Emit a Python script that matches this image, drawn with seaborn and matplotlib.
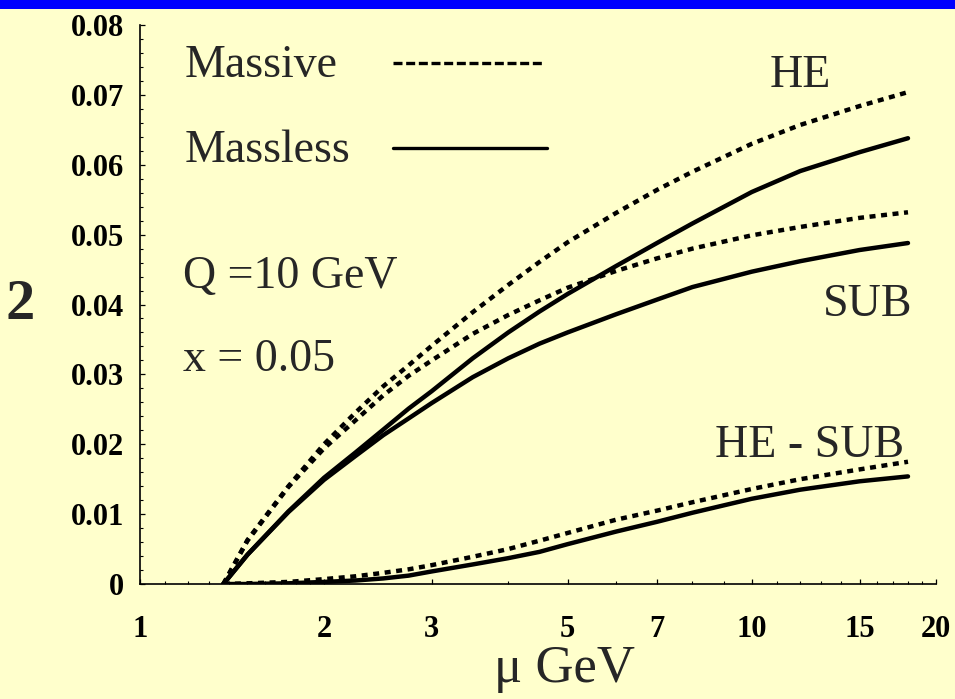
import numpy as np
import pandas as pd
import matplotlib
matplotlib.use("Agg")
import matplotlib.pyplot as plt
from matplotlib.patches import Rectangle
from matplotlib.ticker import FixedLocator, NullFormatter
import seaborn as sns

# ---------------- data ----------------
mu = [1.37, 1.5, 1.75, 2, 2.25, 2.5, 2.75, 3, 3.5, 4, 4.5, 5, 6, 7, 8, 10, 12, 15, 18]
he_massive = [0, 0.0063, 0.0140, 0.0200, 0.0245, 0.0283, 0.0313, 0.0341, 0.0389,
              0.0428, 0.0461, 0.0489, 0.0531, 0.0564, 0.0590, 0.0630, 0.0657,
              0.0684, 0.0704]
he_massless = [0, 0.0042, 0.0104, 0.0152, 0.0188, 0.0221, 0.0251, 0.0276, 0.0323,
               0.0360, 0.0390, 0.0415, 0.0455, 0.0488, 0.0516, 0.0561, 0.0591,
               0.0618, 0.0638]
sub_massive = [0, 0.0062, 0.0139, 0.0194, 0.0234, 0.0270, 0.0298, 0.0320, 0.0358,
               0.0385, 0.0406, 0.0424, 0.0448, 0.0466, 0.0480, 0.0499, 0.0511,
               0.0524, 0.0532]
sub_massless = [0, 0.0042, 0.0103, 0.0149, 0.0183, 0.0213, 0.0237, 0.0259, 0.0296,
                0.0323, 0.0344, 0.0360, 0.0386, 0.0407, 0.0425, 0.0447, 0.0462,
                0.0478, 0.0488]
diff_massive = [0, 0.0001, 0.0003, 0.0007, 0.0011, 0.0016, 0.0021, 0.0027, 0.0039,
                0.0050, 0.0062, 0.0073, 0.0092, 0.0105, 0.0117, 0.0136, 0.0150,
                0.0164, 0.0175]
diff_massless = [0, 0, 0.0001, 0.0003, 0.0005, 0.0008, 0.0012, 0.0018, 0.0028,
                 0.0037, 0.0046, 0.0057, 0.0075, 0.0089, 0.0102, 0.0122, 0.0135,
                 0.0147, 0.0154]

x_major = [1, 2, 3, 5, 7, 10, 15, 20]
x_major_labels = ["1", "2", "3", "5", "7", "10", "15", "20"]
x_minor = [1.1, 1.2, 1.3, 1.4, 1.5, 1.6, 1.7, 1.8, 1.9, 4, 6, 8, 9,
           11, 12, 13, 14, 16, 17, 18, 19]
y_major = [0, 0.01, 0.02, 0.03, 0.04, 0.05, 0.06, 0.07, 0.08]
y_major_labels = ["0", "0.01", "0.02", "0.03", "0.04", "0.05", "0.06", "0.07", "0.08"]
legend_labels = ["Massive", "Massless"]

series = {
    ("HE", "Massive"): he_massive,
    ("HE", "Massless"): he_massless,
    ("SUB", "Massive"): sub_massive,
    ("SUB", "Massless"): sub_massless,
    ("HE - SUB", "Massive"): diff_massive,
    ("HE - SUB", "Massless"): diff_massless,
}
rows = []
for (q, scheme), vals in series.items():
    for m, v in zip(mu, vals):
        rows.append({"mu": m, "value": v, "quantity": q, "scheme": scheme,
                     "curve": q + "|" + scheme})
df = pd.DataFrame(rows)

# ---------------- style ----------------
sns.set_style("ticks")
BG = "#FFFFCC"
SERIF = ["Liberation Serif", "DejaVu Serif"]
plt.rcParams["font.family"] = SERIF

fig = plt.figure(figsize=(9.55, 6.99), dpi=100, facecolor=BG)
ax = fig.add_axes([0.1463, 0.1645, 0.9801 - 0.1463, 0.9642 - 0.1645])
ax.set_facecolor(BG)

# top blue band
fig.add_artist(Rectangle((0, 1 - 9 / 699), 1, 9 / 699, transform=fig.transFigure,
                         facecolor="#0000FF", edgecolor="none", zorder=10))

DOTS = (1.35, 1.25)
sns.lineplot(data=df, x="mu", y="value", units="curve", style="scheme",
             estimator=None, color="black", ax=ax, legend=False, sort=False,
             dashes={"Massive": DOTS, "Massless": ""}, linewidth=3.2)
for ln in ax.lines:
    ln.set_dash_capstyle("butt")
    ln.set_solid_capstyle("round")
    ln.set_solid_joinstyle("round")

ax.set_xscale("log")
ax.set_xlim(1, 20)
ax.set_ylim(0, 0.08)

ax.xaxis.set_major_locator(FixedLocator(x_major))
ax.xaxis.set_minor_locator(FixedLocator(x_minor))
ax.set_xticklabels(x_major_labels)
ax.xaxis.set_minor_formatter(NullFormatter())
ax.set_yticks(y_major)
ax.set_yticklabels(y_major_labels)
ax.yaxis.set_minor_locator(FixedLocator(np.arange(0, 0.0801, 0.002)))

for s in ["top", "right"]:
    ax.spines[s].set_visible(False)
for s in ["left", "bottom"]:
    ax.spines[s].set_linewidth(1.2)
    ax.spines[s].set_color("black")

ax.tick_params(axis="both", which="major", direction="in", length=3.8, width=0.9,
               colors="black")
ax.tick_params(axis="both", which="minor", direction="in", length=2.0, width=0.8,
               colors="black")
ax.tick_params(axis="x", which="major", pad=22)
ax.tick_params(axis="y", which="major", pad=11)
for lab in ax.get_xticklabels() + ax.get_yticklabels():
    lab.set_fontsize(22)
    lab.set_fontweight("bold")
    lab.set_family(SERIF)

ax.set_xlabel("μ GeV", fontsize=38, family=SERIF)
ax.xaxis.set_label_coords(0.533, -0.109)
ax.set_ylabel("2", fontsize=42, fontweight="bold", family=SERIF, rotation=0,
              ha="center", va="center")
ax.yaxis.set_label_coords(-0.150, 0.499)

# annotations
TS = 33
def note(x, y, s, ha):
    ax.text(x, y, s, transform=ax.transAxes, ha=ha, va="center", fontsize=TS,
            family=SERIF)

note(0.8294, 0.9090, "HE", "center")
note(0.9146, 0.4995, "SUB", "center")
note(0.8418, 0.2470, "HE - SUB", "center")
note(0.0544, 0.5490, "Q =10 GeV", "left")
note(0.0544, 0.4010, "x = 0.05", "left")

# legend: label on the left, sample line on the right
note(0.0569, 0.9270, legend_labels[0], "left")
note(0.0569, 0.7750, legend_labels[1], "left")
ax.plot([0.3181, 0.5090], [0.932, 0.932], transform=ax.transAxes, color="black",
        linewidth=2.4, linestyle=(0, (2.7, 1.1)), dash_capstyle="butt",
        clip_on=False)
ax.plot([0.3181, 0.5115], [0.780, 0.780], transform=ax.transAxes, color="black",
        linewidth=2.4, linestyle="-", solid_capstyle="round", clip_on=False)

fig.savefig("out.png", dpi=100, facecolor=BG)
